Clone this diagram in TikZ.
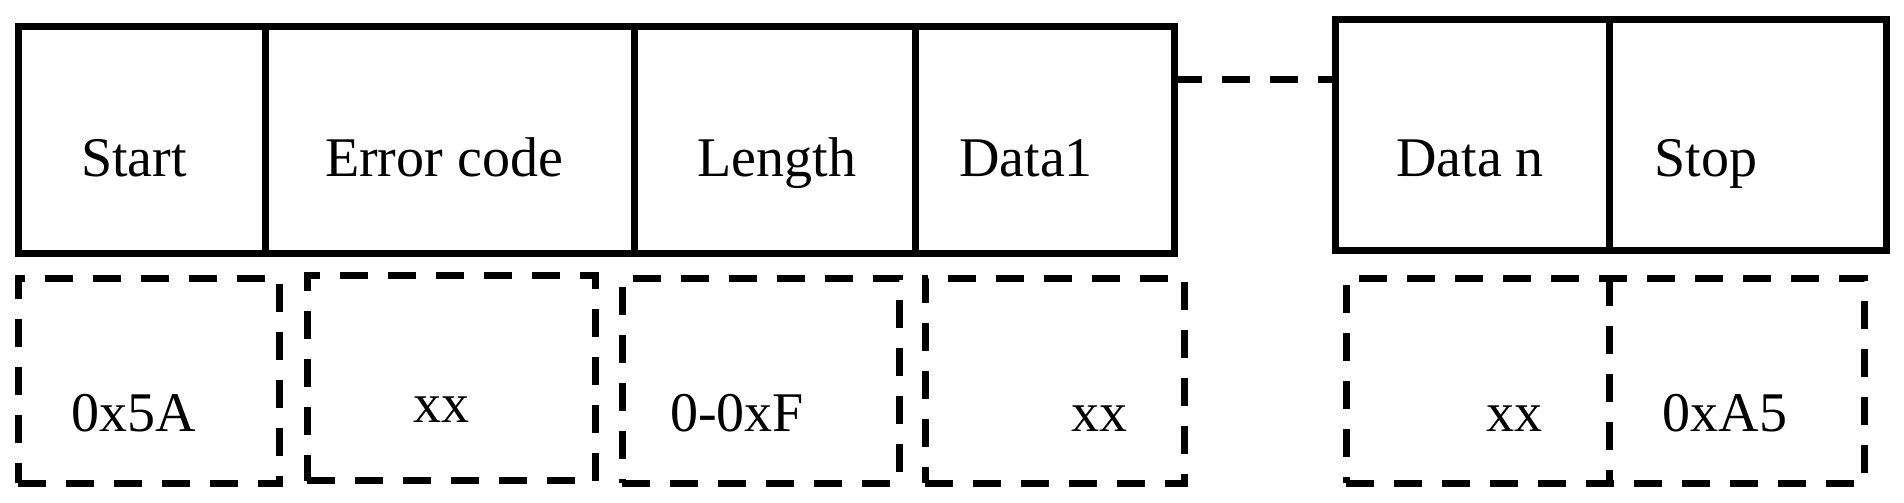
\documentclass[tikz,border=0pt]{standalone}
\usepackage{fontspec}
\setmainfont{Liberation Serif}
\begin{document}
\begin{tikzpicture}[x=1pt,y=-1pt,
  solidbox/.style={draw,line width=7pt,inner sep=0pt},
  dbox/.style={draw,line width=7pt,dash pattern=on 28pt off 20pt,inner sep=0pt},
  lbl/.style={font=\fontsize{56}{60}\selectfont,inner sep=0pt,anchor=base}]
\useasboundingbox (0,0) rectangle (1904,503);
% top boxes
\node[solidbox,minimum width=247pt,minimum height=227pt] (b1) at (141.5,140) {};
\node[solidbox,minimum width=369pt,minimum height=227pt] (b2) at (449.5,140) {};
\node[solidbox,minimum width=281pt,minimum height=227pt] (b3) at (774.5,140) {};
\node[solidbox,minimum width=259pt,minimum height=227pt] (b4) at (1044.5,140) {};
\node[solidbox,minimum width=274pt,minimum height=230pt] (b5) at (1472,135) {};
\node[solidbox,minimum width=277pt,minimum height=230pt] (b6) at (1747.5,135) {};
\coordinate (c1) at (1174,80);
\coordinate (c2) at (1335,80);
\draw[line width=7pt,dash pattern=on 28pt off 20pt] (c1) -- (c2);
\node[lbl] (t1) at (134,176) {Start};
\node[lbl] (t2) at (444,176) {Error code};
\node[lbl] (t3) at (777,176) {Length};
\node[lbl] (t4) at (1026,176) {Data1};
\node[lbl] (t5) at (1470,176) {Data n};
\node[lbl] (t6) at (1706,176) {Stop};
% bottom dashed boxes
\node[dbox,minimum width=261pt,minimum height=205pt] (d1) at (148.5,380.5) {};
\node[dbox,minimum width=288pt,minimum height=205pt] (d2) at (451,378) {};
\node[dbox,minimum width=277pt,minimum height=205pt] (d3) at (760.5,380.5) {};
\node[dbox,minimum width=259pt,minimum height=205pt] (d4) at (1054.5,380.5) {};
\node[dbox,minimum width=518pt,minimum height=205pt] (d5) at (1605,380.5) {};
\coordinate (e1) at (1609,278);
\coordinate (e2) at (1609,483);
\draw[line width=7pt,dash pattern=on 28pt off 20pt] (e1) -- (e2);
\node[lbl] (u1) at (134,431) {0x5A};
\node[lbl] (u2) at (441,422) {xx};
\node[lbl] (u3) at (737,431) {0-0xF};
\node[lbl] (u4) at (1099,431) {xx};
\node[lbl] (u5) at (1514,431) {xx};
\node[lbl] (u6) at (1725,431) {0xA5};
\end{tikzpicture}
\end{document}
